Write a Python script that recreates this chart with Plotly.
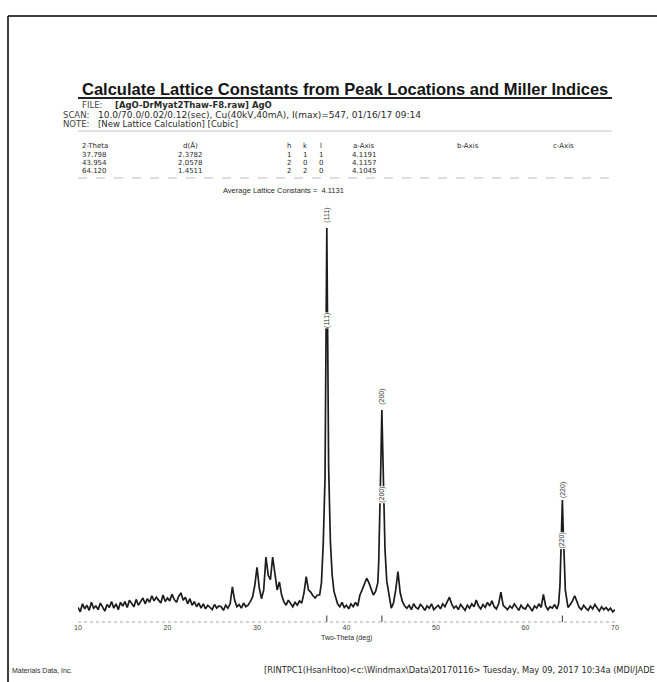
import numpy as np
import plotly.graph_objects as go

# ---- Diffraction pattern: background samples every 0.25 deg (10.0 .. 70.0) ----
bg_start = 10.0
bg_step = 0.25
bg_counts = [
    28, 22, 33, 26,   31, 24, 35, 27,   30, 25, 34, 29,   23, 32, 28, 36,   # 10-13
    27, 33, 25, 35,   30, 36, 28, 38,   33, 29, 39, 31,   36, 41, 33, 40,   # 14-17
    35, 44, 37, 42,   38, 34, 45, 36,   41, 37, 46, 39,   35, 43, 48, 38,   # 18-21
    42, 33, 40, 31,   36, 29, 34, 27,   33, 26, 31, 28,   25, 32, 27, 30,   # 22-25
    29, 24, 31, 27,   33, 56, 38, 29,   32, 27, 34, 29,   31, 36, 42, 58,   # 26-29
    83, 55, 40, 52,   97, 72, 66, 97,   70, 52, 63, 45,   36, 31, 38, 33,   # 30-33
    29, 35, 31, 37,   34, 48, 70, 52,   49, 44, 41, 45,   47, 60, 110, 380, # 34-37
    220, 70, 48, 38,  33, 29, 35, 28,   31, 26, 33, 29,   35, 30, 45, 52,   # 38-41
    59, 68, 62, 52,   45, 50, 80, 160,  298, 140, 65, 45, 27, 34, 52, 77,   # 42-45
    48, 36, 30, 27,   31, 25, 33, 28,   26, 32, 29, 24,   30, 27, 33, 25,   # 46-49
    28, 31, 26, 33,   29, 35, 42, 33,   27, 30, 25, 32,   28, 24, 31, 27,   # 50-53
    33, 29, 38, 30,   26, 32, 28, 35,   30, 37, 29, 26,   33, 49, 31, 28,   # 54-57
    25, 30, 27, 33,   29, 24, 31, 27,   26, 32, 28, 23,   30, 27, 33, 28,   # 58-61
    46, 30, 25, 29,   27, 32, 26, 30,   175, 80, 36, 28,  32, 37, 44, 35,   # 62-65
    28, 25, 31, 27,   24, 30, 26, 32,   27, 23, 29, 25,   28, 24, 27, 22,   # 66-69
    25,                                                                       # 70
]

# ---- Sharp AgO reflections, sampled more finely ----
p111_theta = [37.0, 37.2, 37.4, 37.6, 37.7, 37.8, 37.9, 38.0, 38.2, 38.4, 38.6, 38.8]
p111_counts = [45, 62, 115, 205, 385, 547, 392, 222, 118, 72, 50, 40]
p200_theta = [43.5, 43.6, 43.75, 43.85, 43.95, 44.05, 44.15, 44.3, 44.5, 44.8]
p200_counts = [62, 90, 160, 232, 298, 242, 165, 108, 64, 40]
p220_theta = [63.7, 63.85, 63.95, 64.05, 64.12, 64.2, 64.3, 64.45, 64.7]
p220_counts = [33, 58, 100, 150, 175, 140, 88, 52, 32]

# ---- Peak identification ----
peak_hkl = ["(111)", "(200)", "(220)"]
peak_pos = [37.798, 43.954, 64.120]
peak_top = [547, 298, 175]
label_top_y = [565, 316, 189]
label_mid_y = [421, 182, 120]

# ---- Lattice table ----
col_2theta = ["37.798", "43.954", "64.120"]
col_d = ["2.3782", "2.0578", "1.4511"]
col_h = ["1", "2", "2"]
col_k = ["1", "0", "2"]
col_l = ["1", "0", "0"]
col_a = ["4.1191", "4.1157", "4.1045"]
avg_a = "4.1131"

x_ticks = [10, 20, 30, 40, 50, 60, 70]

# assemble the full profile
theta_bg = bg_start + bg_step * np.arange(len(bg_counts))
counts_bg = np.array(bg_counts, dtype=float)
keep = np.ones(len(theta_bg), dtype=bool)
extra_t, extra_c = [], []
for t, c in [(p111_theta, p111_counts), (p200_theta, p200_counts), (p220_theta, p220_counts)]:
    keep &= ~((theta_bg >= min(t)) & (theta_bg <= max(t)))
    extra_t += t
    extra_c += c
theta = np.concatenate([theta_bg[keep], extra_t])
counts = np.concatenate([counts_bg[keep], extra_c])
order = np.argsort(theta)
theta, counts = theta[order], counts[order]

# ---- page geometry (pixels) ----
W, H = 657, 682
L, R, T, B = 78, 42, 200, 60
PW, PH = W - L - R, H - T - B
SANS = "Liberation Sans, Arial, sans-serif"
WIDE = "DejaVu Sans, Verdana, sans-serif"
INK = "#2a2a2a"


def px(xp, yp):
    return dict(xref="paper", yref="paper", x=(xp - L) / PW, y=(H - B - yp) / PH)


def text(xp, yp, s, size=8.5, anchor="left", bold=False, color=INK, family=WIDE):
    a = px(xp, yp)
    a.update(text=("<b>%s</b>" % s) if bold else s, showarrow=False,
             xanchor=anchor, yanchor="middle",
             font=dict(family=family, size=size, color=color))
    return a


def hline(x0, x1, yp, color=INK, width=1, dash="solid"):
    a0, a1 = px(x0, yp), px(x1, yp)
    return dict(type="line", xref="paper", yref="paper", x0=a0["x"], x1=a1["x"],
                y0=a0["y"], y1=a0["y"], line=dict(color=color, width=width, dash=dash))


fig = go.Figure()
fig.add_trace(go.Scatter(x=theta, y=counts, mode="lines",
                         line=dict(color="#1c1c1c", width=1.7),
                         hoverinfo="skip", showlegend=False))

ann = []
shapes = []

# header
ann.append(text(80, 89, "Calculate Lattice Constants from Peak Locations and Miller Indices",
                size=16.5, bold=True, color="#151515", family=SANS))
shapes.append(hline(78, 612, 98, color="#222", width=2))
ann.append(text(80, 105, "FILE:", size=8.5, color="#444"))
ann.append(text(113, 105, "[AgO-DrMyat2Thaw-F8.raw] AgO", size=8.5, bold=True))
ann.append(text(61, 114.5, "SCAN:", size=8.5, color="#444"))
ann.append(text(96, 114.5, "10.0/70.0/0.02/0.12(sec), Cu(40kV,40mA), I(max)=547, 01/16/17 09:14", size=9))
ann.append(text(61, 124, "NOTE:", size=8.5, color="#444"))
ann.append(text(96, 124, "[New Lattice Calculation] [Cubic]", size=8.5))
shapes.append(hline(78, 612, 131, color="#c4c4c4", width=1))

# table
TS = 7
ann.append(text(80, 146, "2-Theta", size=TS))
ann.append(text(190, 146, "d(Å)", size=TS, anchor="center"))
ann.append(text(289, 146, "h", size=TS, anchor="center"))
ann.append(text(305, 146, "k", size=TS, anchor="center"))
ann.append(text(321, 146, "l", size=TS, anchor="center"))
ann.append(text(364, 146, "a-Axis", size=TS, anchor="center"))
ann.append(text(468, 146, "b-Axis", size=TS, anchor="center"))
ann.append(text(563, 146, "c-Axis", size=TS, anchor="center"))
for i in range(len(col_2theta)):
    yr = 155 + 8 * i
    ann.append(text(80, yr, col_2theta[i], size=TS))
    ann.append(text(190, yr, col_d[i], size=TS, anchor="center"))
    ann.append(text(289, yr, col_h[i], size=TS, anchor="center"))
    ann.append(text(305, yr, col_k[i], size=TS, anchor="center"))
    ann.append(text(321, yr, col_l[i], size=TS, anchor="center"))
    ann.append(text(364, yr, col_a[i], size=TS, anchor="center"))
shapes.append(hline(78, 612, 178, color="#bbb", width=1, dash="dash"))
ann.append(text(283, 190, "Average Lattice Constants =  " + avg_a, size=7.5,
                anchor="center", family=SANS))

# peak labels and reference ticks
for hkl, pos, ytop, ymid in zip(peak_hkl, peak_pos, label_top_y, label_mid_y):
    for yl in (ytop, ymid):
        ann.append(dict(x=pos, y=yl, xref="x", yref="y", text=hkl, textangle=-90,
                        showarrow=False, bgcolor="white", borderpad=0,
                        font=dict(family=SANS, size=7, color="#333")))
    shapes.append(dict(type="line", xref="x", yref="y", x0=pos, x1=pos, y0=8, y1=17,
                       line=dict(color="#333", width=1)))

# axis title
ann.append(text(346, 638, "Two-Theta (deg)", size=7, anchor="center", family=SANS))

# footer
ann.append(text(10, 670, "Materials Data, Inc.", size=7, family=SANS))
ann.append(text(262, 670, "[RINTPC1(HsanHtoo)<c:\\Windmax\\Data\\20170116> Tuesday, May 09, 2017 10:34a (MDI/JADE",
                size=8.3))

# dotted scale row along the bottom of the pattern
shapes.append(dict(type="line", xref="x", yref="paper", x0=10, x1=70, y0=0, y1=0,
                   line=dict(color="#aaa", width=1, dash="dot")))

# page frame (left and top edges)
f0 = px(8, 16)
f1 = px(W, H)
shapes.append(dict(type="line", xref="paper", yref="paper", x0=f0["x"], x1=f0["x"],
                   y0=f0["y"], y1=f1["y"], line=dict(color="black", width=1.5)))
shapes.append(dict(type="line", xref="paper", yref="paper", x0=f0["x"], x1=f1["x"],
                   y0=f0["y"], y1=f0["y"], line=dict(color="black", width=1.5)))

fig.update_layout(
    width=W, height=H,
    margin=dict(l=L, r=R, t=T, b=B),
    paper_bgcolor="white", plot_bgcolor="white",
    showlegend=False,
    annotations=ann, shapes=shapes,
    xaxis=dict(range=[10, 70], tickvals=x_ticks, ticks="", showgrid=False,
               zeroline=False, showline=False,
               tickfont=dict(family=SANS, size=7, color="#444")),
    yaxis=dict(range=[8.1, 585.3], visible=False, showgrid=False, zeroline=False),
)

fig.write_html("out.html")
